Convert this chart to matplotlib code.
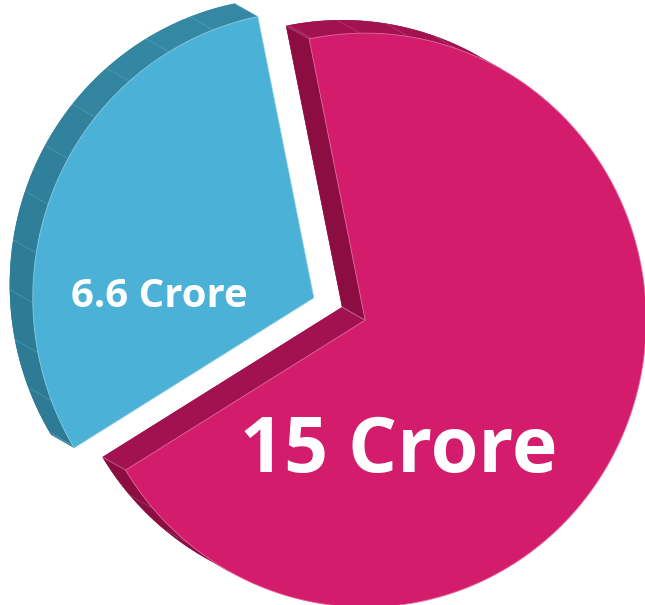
import numpy as np
import matplotlib
matplotlib.use("Agg")
import matplotlib.pyplot as plt
from matplotlib.patches import Polygon

# data
labels = ["15 Crore", "6.6 Crore"]
values = [15, 6.6]
top_colors = ["#D41C6C", "#4BB1D6"]
side_light = ["#A31250", "#3588A3"]
side_dark = ["#8B0D42", "#2D7B95"]

# layout (pixel-like data coords, y up)
W, H = 645, 605
center = np.array([339.5, 296.0])
rx, ry = 281, 287
explode = 28
depth = np.array([-23.0, 13.0])  # extrusion direction
depth_ang = np.degrees(np.arctan2(depth[1], depth[0]))
blue_start = 101.5  # angle where the small slice starts (ccw)


def mix(c1, c2, t):
    a = np.array(matplotlib.colors.to_rgb(c1))
    b = np.array(matplotlib.colors.to_rgb(c2))
    return tuple(a + (b - a) * t)


def shade(i, normal):
    phi = normal % 360
    t = np.clip((phi - 120) / 60.0, 0, 1)
    return mix(side_light[i], side_dark[i], t)


def visible(normal):
    return np.cos(np.radians(normal - depth_ang)) > 0


def pt(apex, t):
    r = np.radians(t)
    return apex + np.array([rx * np.cos(r), ry * np.sin(r)])


fig = plt.figure(figsize=(W / 100, H / 100), dpi=100)
ax = fig.add_axes([0, 0, 1, 1])
ax.set_xlim(0, W)
ax.set_ylim(0, H)
ax.axis("off")

total = sum(values)
spans = [v / total * 360 for v in values]
# small slice from blue_start, big slice continues after it
ranges = [(blue_start + spans[1], blue_start + spans[1] + spans[0]),
          (blue_start, blue_start + spans[1])]

for i in [1, 0]:
    t0, t1 = ranges[i]
    mid = np.radians((t0 + t1) / 2)
    apex = center + explode * np.array([np.cos(mid), np.sin(mid)])

    # facet edges every 10 degrees (global grid), plus slice ends
    grid = np.arange(np.ceil((t0 - 1) / 10) * 10 + 1, t1, 10)
    ts = np.unique(np.concatenate([[t0], grid[(grid > t0) & (grid < t1)], [t1]]))
    fine = np.linspace(t0, t1, 400)
    front = np.vstack([apex] + [pt(apex, t) for t in fine])
    back = front + depth

    ax.add_patch(Polygon(back, closed=True, fc=side_dark[i], ec="none", zorder=1))

    # arc side facets
    for a, b in zip(ts[:-1], ts[1:]):
        n = (a + b) / 2
        if not visible(n):
            continue
        tt = np.linspace(a, b, 30)
        f = np.array([pt(apex, t) for t in tt])
        quad = np.vstack([f, (f + depth)[::-1]])
        ax.add_patch(Polygon(quad, closed=True, fc=shade(i, n), ec=shade(i, n),
                             lw=0.3, zorder=2))
        p = pt(apex, a)
        ax.plot([p[0], p[0] + depth[0]], [p[1], p[1] + depth[1]],
                color="white", alpha=0.2, lw=0.5, zorder=3)

    # radial sides
    for t, n in [(t0, t0 - 90), (t1, t1 + 90)]:
        if not visible(n):
            continue
        p = pt(apex, t)
        quad = np.array([apex, p, p + depth, apex + depth])
        ax.add_patch(Polygon(quad, closed=True, fc=shade(i, n), ec=shade(i, n),
                             lw=0.3, zorder=2))
        ax.plot([apex[0], apex[0] + depth[0]], [apex[1], apex[1] + depth[1]],
                color="white", alpha=0.25, lw=0.6, zorder=3)
        ax.plot([p[0], p[0] + depth[0]], [p[1], p[1] + depth[1]],
                color="white", alpha=0.25, lw=0.6, zorder=3)

    ax.add_patch(Polygon(front, closed=True, fc=top_colors[i],
                         ec=mix(top_colors[i], "#ffffff", 0.35), lw=0.6, zorder=4))

ax.text(399, 133, labels[0], ha="center", va="baseline", color="white",
        fontsize=55.5, fontweight="bold", family="Open Sans", zorder=5)
ax.text(159, 298, labels[1], ha="center", va="baseline", color="white",
        fontsize=29, fontweight="bold", family="Open Sans", zorder=5)

fig.savefig("out.png", dpi=100)
